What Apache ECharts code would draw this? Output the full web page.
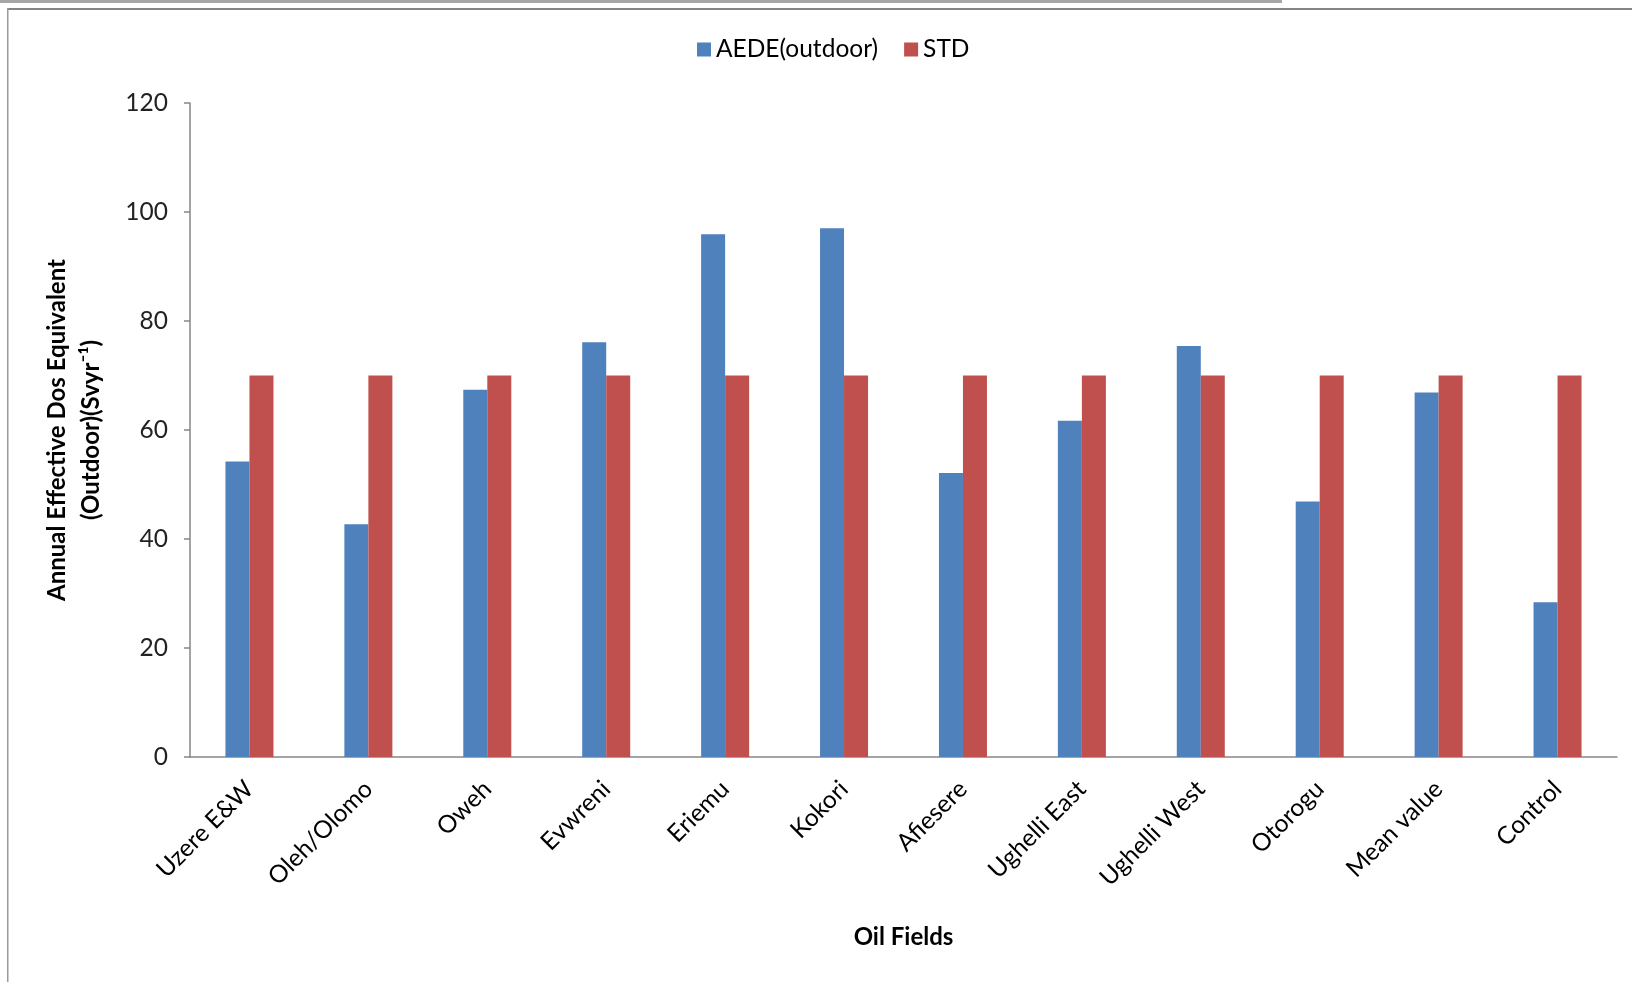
<!DOCTYPE html>
<html>
<head>
<meta charset="utf-8">
<title>Annual Effective Dose Equivalent (Outdoor) by Oil Field</title>
<script src="https://cdn.jsdelivr.net/npm/echarts@6/dist/echarts.min.js"></script>
<style>
  html, body { margin: 0; padding: 0; background: #ffffff; }
  #chart { width: 1632px; height: 982px; }
</style>
</head>
<body>
<div id="chart"></div>
<script>
// Oil fields along the x axis
const oilFields = [
  'Uzere E&W', 'Oleh/Olomo', 'Oweh', 'Evwreni', 'Eriemu', 'Kokori',
  'Afiesere', 'Ughelli East', 'Ughelli West', 'Otorogu', 'Mean value', 'Control'
];

// Outdoor annual effective dose equivalent per field
const aedeOutdoor = [54.2, 42.7, 67.4, 76.1, 95.9, 97.0, 52.1, 61.7, 75.4, 46.9, 66.9, 28.4];

// Reference standard per field
const stdValues = [70, 70, 70, 70, 70, 70, 70, 70, 70, 70, 70, 70];

// Y axis range and step
const yTicks = { min: 0, max: 120, step: 20 };

const FONT = 'Lato, "Open Sans", sans-serif';

const chart = echarts.init(document.getElementById('chart'), null, { renderer: 'canvas' });

chart.setOption({
  backgroundColor: '#ffffff',
  animation: false,
  textStyle: { fontFamily: FONT },
  legend: {
    left: 692,
    top: 32,
    itemWidth: 14,
    itemHeight: 14,
    itemGap: 26,
    icon: 'rect',
    textStyle: { fontFamily: FONT, fontSize: 24.5, color: '#000000' },
    data: ['AEDE(outdoor)', 'STD']
  },
  grid: {
    left: 190,
    right: 15,
    top: 103,
    bottom: 225,
    containLabel: false
  },
  xAxis: {
    type: 'category',
    data: oilFields,
    name: 'Oil Fields',
    nameLocation: 'middle',
    nameGap: 168,
    nameTextStyle: { fontFamily: FONT, fontSize: 24, fontWeight: 'bold', color: '#000000' },
    axisLine: { show: true, lineStyle: { color: '#868686', width: 1.5 } },
    axisTick: { show: false },
    axisLabel: {
      rotate: 45,
      margin: 28,
      interval: 0,
      fontFamily: FONT,
      fontSize: 24.5,
      color: '#000000'
    },
    splitLine: { show: false }
  },
  yAxis: {
    type: 'value',
    min: yTicks.min,
    max: yTicks.max,
    interval: yTicks.step,
    name: 'Annual Effective Dos Equivalent\n(Outdoor)(Svyr\u207B\u00B9)',
    nameLocation: 'middle',
    nameRotate: 90,
    nameGap: 82,
    nameTextStyle: {
      fontFamily: FONT,
      fontSize: 24,
      fontWeight: 'bold',
      color: '#000000',
      lineHeight: 34,
      align: 'center'
    },
    axisLine: { show: true, lineStyle: { color: '#868686', width: 1.5 } },
    axisTick: { show: true, length: 6, inside: false, lineStyle: { color: '#868686', width: 1.5 } },
    axisLabel: {
      margin: 22,
      fontFamily: FONT,
      fontSize: 24.5,
      color: '#222222'
    },
    splitLine: { show: false }
  },
  series: [
    {
      name: 'AEDE(outdoor)',
      type: 'bar',
      data: aedeOutdoor,
      barWidth: 24,
      barGap: '0%',
      itemStyle: { color: '#4F81BD' }
    },
    {
      name: 'STD',
      type: 'bar',
      data: stdValues,
      barWidth: 24,
      barGap: '0%',
      itemStyle: { color: '#C0504D' }
    }
  ],
  graphic: [
    // page frame lines
    { type: 'rect', shape: { x: 0, y: 0, width: 1282, height: 3 }, style: { fill: '#a6a6a6' }, silent: true },
    { type: 'rect', shape: { x: 7, y: 8, width: 1625, height: 2 }, style: { fill: '#858585' }, silent: true },
    { type: 'rect', shape: { x: 7, y: 8, width: 1.5, height: 974 }, style: { fill: '#9a9a9a' }, silent: true }
  ]
});
</script>
</body>
</html>
